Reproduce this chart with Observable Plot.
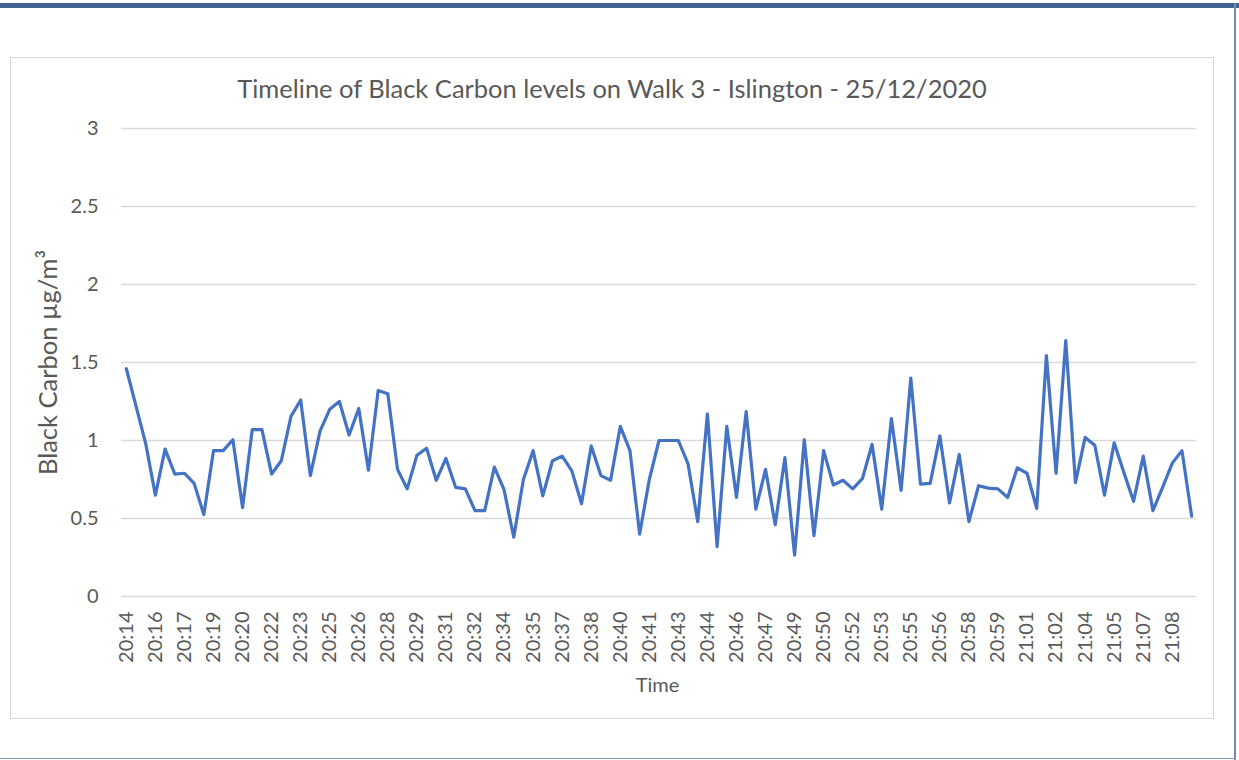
<!DOCTYPE html>
<html>
<head>
<meta charset="utf-8">
<script src="https://cdn.jsdelivr.net/npm/d3@7"></script>
<script src="https://cdn.jsdelivr.net/npm/@observablehq/plot@0.6"></script>
<style>
  body { margin: 0; background: #ffffff; }
  #wrap { position: relative; width: 1239px; height: 760px; overflow: hidden; font-family: Lato, "Open Sans", sans-serif; }
  .abs { position: absolute; }
</style>
</head>
<body>
<div id="wrap">
  <div class="abs" style="left:0;top:3px;width:1239px;height:5px;background:#3e6392"></div>
  <div class="abs" style="left:1234px;top:3px;width:2px;height:757px;background:#6d8bb3"></div>
  <div class="abs" style="left:0;top:758px;width:1236px;height:1px;background:#7f98bb"></div>
  <div class="abs" style="left:10px;top:57px;width:1202px;height:660px;border:1px solid #d9d9d9"></div>
  <div id="chart" class="abs" style="left:0;top:0"></div>
</div>
<script>
const chartTitle = "Timeline of Black Carbon levels on Walk 3 - Islington - 25/12/2020";
const yLabel = "Black Carbon µg/m³";
const xLabel = "Time";

// Black carbon readings, one every 30 seconds from 20:14:30
const values = [
  1.46, 1.22, 0.98, 0.65, 0.945, 0.785, 0.79, 0.725, 0.525, 0.935,
  0.935, 1.005, 0.57, 1.07, 1.07, 0.785, 0.87, 1.155, 1.26, 0.775,
  1.06, 1.2, 1.25, 1.035, 1.205, 0.81, 1.32, 1.30, 0.815, 0.69,
  0.905, 0.95, 0.745, 0.885, 0.70, 0.69, 0.55, 0.55, 0.83, 0.685,
  0.38, 0.75, 0.935, 0.645, 0.87, 0.90, 0.805, 0.595, 0.965, 0.775,
  0.745, 1.09, 0.935, 0.40, 0.75, 1.0, 1.0, 1.0, 0.85, 0.48,
  1.17, 0.32, 1.09, 0.635, 1.185, 0.56, 0.815, 0.46, 0.89, 0.265,
  1.005, 0.39, 0.935, 0.715, 0.745, 0.69, 0.755, 0.975, 0.56, 1.14,
  0.68, 1.40, 0.72, 0.725, 1.03, 0.60, 0.91, 0.48, 0.71, 0.695,
  0.69, 0.635, 0.825, 0.79, 0.565, 1.545, 0.79, 1.64, 0.73, 1.02,
  0.97, 0.65, 0.985, 0.795, 0.61, 0.90, 0.55, 0.70, 0.855, 0.935,
  0.515
];

// Category labels shown on the axis (every third reading)
const xTickLabels = [
  "20:14", "20:16", "20:17", "20:19", "20:20", "20:22", "20:23", "20:25", "20:26", "20:28",
  "20:29", "20:31", "20:32", "20:34", "20:35", "20:37", "20:38", "20:40", "20:41", "20:43",
  "20:44", "20:46", "20:47", "20:49", "20:50", "20:52", "20:53", "20:55", "20:56", "20:58",
  "20:59", "21:01", "21:02", "21:04", "21:05", "21:07", "21:08"
];
const yTicks = [0, 0.5, 1, 1.5, 2, 2.5, 3];

const labelEvery = 3;
const indices = values.map((d, i) => i);
const xTicks = xTickLabels.map((d, k) => k * labelEvery);
const rows = values.map((v, i) => ({i, v}));

const textColor = "#595959";

const chart = Plot.plot({
  width: 1239,
  height: 760,
  marginLeft: 121,
  marginRight: 43,
  marginTop: 128,
  marginBottom: 164,
  style: {fontFamily: "Lato, 'Open Sans', sans-serif", fontSize: "20px", color: textColor, background: "transparent", overflow: "visible"},
  x: {type: "point", domain: indices, padding: 0.5},
  y: {domain: [0, 3]},
  marks: [
    Plot.gridY(yTicks, {stroke: "#d9d9d9", strokeOpacity: 1, strokeWidth: 1.3}),
    Plot.axisY({ticks: yTicks, tickFormat: d => String(d), tickSize: 0, tickPadding: 23, label: null, fontSize: 20, fill: textColor}),
    Plot.axisX({ticks: xTicks, tickFormat: i => xTickLabels[i / labelEvery], tickRotate: -90, tickSize: 0, tickPadding: 15, label: null, fontSize: 20, fill: textColor}),
    Plot.lineY(rows, {x: "i", y: "v", stroke: "#4472c4", strokeWidth: 3.2, strokeLinejoin: "round", strokeLinecap: "round"}),
    Plot.text([chartTitle], {frameAnchor: "top", lineAnchor: "middle", textAnchor: "middle", dx: -47, dy: -39, fontSize: 25.5, fill: textColor}),
    Plot.text([yLabel], {frameAnchor: "left", lineAnchor: "middle", textAnchor: "middle", dx: -73, rotate: -90, fontSize: 25.5, fill: textColor}),
    Plot.text([xLabel], {frameAnchor: "bottom", lineAnchor: "middle", textAnchor: "middle", dx: -1.5, dy: 89, fontSize: 20, fill: textColor})
  ]
});
document.getElementById("chart").appendChild(chart);
</script>
</body>
</html>
